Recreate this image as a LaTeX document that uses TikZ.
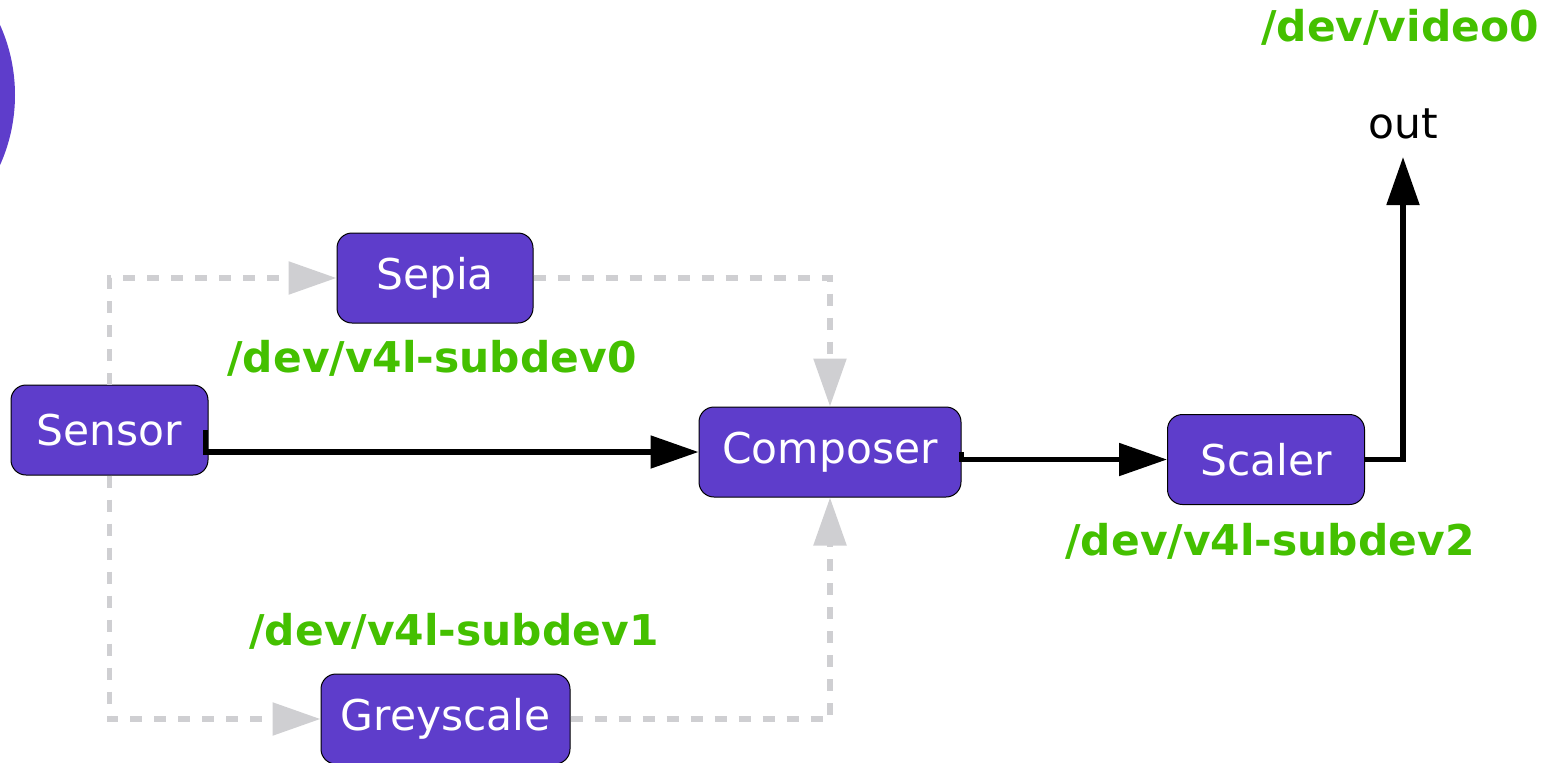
\documentclass[tikz,border=0pt]{standalone}
\usepackage{fontspec}
\setmainfont{DejaVu Sans}
\usepackage{tikz}
\usetikzlibrary{arrows.meta,positioning}
\definecolor{BlockFill}{HTML}{5E3DCB}
\definecolor{DevGreen}{HTML}{44C000}
\definecolor{AltGrey}{HTML}{CFCFD2}

\begin{document}
\begin{tikzpicture}[
  x=0.5pt, y=-0.5pt,
  block/.style={rectangle, rounded corners=7.5pt, draw=black, line width=0.5pt,
                fill=BlockFill, text=white, minimum height=45pt,
                font=\fontsize{21.2}{25}\selectfont, inner sep=0pt},
  devlabel/.style={text=DevGreen, font=\fontsize{21.2}{25}\selectfont\bfseries},
  flow/.style={draw=black, line width=2.6pt,
               -{Triangle[length=24pt,width=16pt]}},
  altflow/.style={draw=AltGrey, line width=2.8pt, dash pattern=on 6pt off 6pt,
                  -{Triangle[length=24pt,width=16pt,fill=AltGrey,sep=0pt]}}
]
  \useasboundingbox (0,0) rectangle (1553,762);

  % corner decoration
  \fill[BlockFill] (-156,95) circle (171);

  % blocks
  \node[block, minimum width=98.5pt] (sensor)    at (109.5,430)  {Sensor};
  \node[block, minimum width=98pt]   (sepia)     at (435,278)    {Sepia};
  \node[block, minimum width=131pt]  (composer)  at (830,452)    {Composer};
  \node[block, minimum width=98.5pt] (scaler)    at (1266,459.5) {Scaler};
  \node[block, minimum width=124.5pt](greyscale) at (445.5,719)  {Greyscale};

  \node[font=\fontsize{21.2}{25}\selectfont] (out) at (1403,124) {out};
  \coordinate (outend) at (1403,157);

  % device names
  \node[devlabel] (sub0)  at (432,358)  {/dev/v4l-subdev0};
  \node[devlabel] (sub1)  at (454,631)  {/dev/v4l-subdev1};
  \node[devlabel] (sub2)  at (1270,541) {/dev/v4l-subdev2};
  \node[devlabel] (video) at (1400,27)  {/dev/video0};

  % optional paths
  \draw[altflow] (sensor.north) |- (sepia.west);
  \draw[altflow] (sepia.east) -| (composer.north);
  \draw[altflow] (sensor.south) |- (greyscale.west);
  \draw[altflow] (greyscale.east) -| (composer.south);

  % main path
  \draw[flow] ([xshift=-1.5pt]sensor.east) |- (composer.west);
  \draw[flow] (composer.east) |- (scaler.west);
  \draw[flow] (scaler.east) -| (outend);
\end{tikzpicture}
\end{document}
